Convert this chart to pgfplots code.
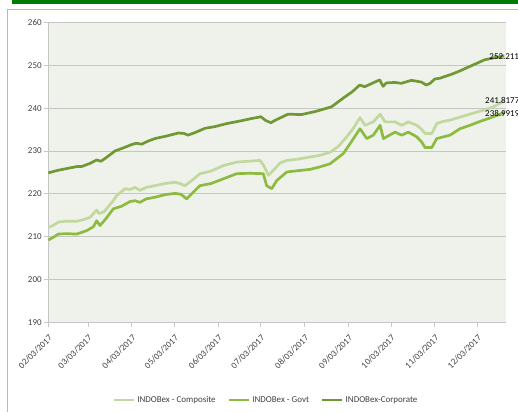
\documentclass[border=0pt]{standalone}
\usepackage{pgfplots}
\pgfplotsset{compat=1.18}
\usepackage{fontspec}
\setmainfont{Carlito}
\definecolor{barGreen}{RGB}{0,122,0}
\definecolor{bgcol}{RGB}{239,242,234}
\definecolor{cComp}{RGB}{193,216,158}
\definecolor{cGovt}{RGB}{141,187,66}
\definecolor{cCorp}{RGB}{112,152,52}
\definecolor{txtgray}{RGB}{64,64,64}
\begin{document}
\begin{tikzpicture}[x=1bp,y=1bp]
\fill[barGreen] (11.7,407.5) rectangle (518,412);
\draw[gray!55, line width=0.9bp] (7.6,0) -- (7.6,403) -- (518,403);
\begin{axis}[
  at={(48.3bp,89.7bp)}, anchor=south west,
  scale only axis, width=457.4bp, height=299.8bp,
  xmin=0, xmax=323, ymin=190, ymax=260,
  clip=false,
  axis lines=left,
  axis line style={-, draw=gray!45, line width=0.9bp},
  axis background/.style={fill=bgcol},
  ytick={190,200,...,260},
  ymajorgrids, major grid style={draw=gray!45, line width=0.9bp},
  xtick={0,28,59,89,120,150,181,212,242,273,303},
  xticklabels={02/03/2017,03/03/2017,04/03/2017,05/03/2017,06/03/2017,07/03/2017,08/03/2017,09/03/2017,10/03/2017,11/03/2017,12/03/2017},
  tick align=outside, major tick length=4.5bp,
  tick style={draw=gray!45, line width=0.9bp},
  /pgf/number format/assume math mode=true,
  ticklabel style={font=\fontsize{9}{10}\selectfont, text=txtgray},
  xticklabel style={rotate=45, anchor=north east, inner sep=1.5pt},
  xticklabel shift=5bp,
  yticklabel style={inner sep=2pt},
  legend columns=3,
  legend style={draw=none, fill=none, font=\fontsize{9}{10}\selectfont, text=txtgray,
    at={(0.476,-0.259)}, anchor=center,
    /tikz/every even column/.append style={column sep=10bp}},
  legend image code/.code={\draw[#1, line width=2.6bp] (0bp,0bp) -- (20bp,0bp);},
  every axis plot/.append style={line width=2.7bp, line join=round},
]
\addplot[cComp] table {
x y
0 212.1
3.3 212.6
7.1 213.4
12.5 213.6
20.1 213.6
25.2 214.0
29.4 214.5
34.2 216.2
35.8 215.4
39.3 215.8
45.9 218.4
48.3 219.6
50.6 220.2
54.2 221.2
57.7 221.0
61.2 221.5
64.7 220.8
69 221.5
75.3 221.9
82.4 222.4
89.5 222.7
93 222.4
96.5 221.9
101.3 223.1
107.1 224.7
114.9 225.3
123.6 226.6
133 227.4
141 227.6
149.5 227.8
152.3 226.5
155.4 224.3
158.9 225.5
163.6 227.2
168.4 227.8
176.3 228.1
184.8 228.6
191.9 229.0
198.9 229.7
204.6 231.0
210.7 233.3
215.2 235.2
220.1 237.8
223.6 236.0
229.5 236.8
234.3 238.6
237.8 236.8
244.8 236.8
249.6 236.0
254.2 236.8
260.2 236.0
263.2 235.2
266 234.1
270.8 234.1
274.3 236.4
278.7 236.9
283.7 237.2
290.7 237.9
297.8 238.6
304.8 239.3
311 239.9
316 240.6
322 241.8
};
\addlegendentry{INDOBex - Composite}
\addplot[cGovt] table {
x y
0 209.2
3.3 209.8
7.1 210.6
12.5 210.7
20.1 210.6
27.1 211.4
31.8 212.3
34.2 213.7
36.5 212.6
40.7 214.2
45.9 216.5
51.8 217.1
57.7 218.2
61.2 218.4
64.7 218.0
69 218.8
75.3 219.2
82.4 219.8
89.5 220.1
93.7 219.9
97.7 218.8
102.4 220.4
107.1 221.9
114.9 222.4
123.6 223.5
133 224.7
142.4 224.8
151.8 224.7
154.2 221.9
157.8 221.2
161.3 223.1
168.4 225.1
176.3 225.4
184.8 225.7
191.9 226.3
198.9 227.0
208.3 229.4
213.1 231.7
220.1 235.2
224.9 232.9
229.5 233.7
234.3 236.0
236.6 232.9
244.8 234.4
249.6 233.7
254.2 234.4
260.2 233.3
263.7 232.1
266 230.8
270.8 230.8
274.3 232.9
283.7 233.7
290.7 235.2
297.8 236.0
304.8 236.9
311 237.6
316 238.2
322 239.0
};
\addlegendentry{INDOBex - Govt}
\addplot[cCorp] table {
x y
0 224.9
6.9 225.5
13 225.9
20.8 226.4
23.8 226.4
29.4 227.1
34.2 227.9
37.2 227.6
40.7 228.4
47.1 230.0
52 230.6
58.9 231.5
62 231.8
66 231.6
70.4 232.3
75.3 232.9
83.6 233.5
91.8 234.2
95.8 234.1
98.7 233.7
103.6 234.3
110.7 235.3
117.7 235.7
126 236.4
135.4 237.0
142.4 237.5
150.1 238.0
153.6 237.1
157.2 236.6
160.4 237.2
169.3 238.6
178.7 238.5
188.3 239.2
199.9 240.3
209.3 242.6
214.5 243.8
219.9 245.4
223.4 245.0
228.6 245.8
234 246.6
236.4 245.1
238.7 245.9
244.8 246.0
249.3 245.8
256.4 246.5
263.4 246.1
266.9 245.4
269.6 245.8
272.9 246.8
276.6 247.0
284.6 247.9
290.7 248.7
298.7 249.9
308.2 251.3
315.3 251.8
322 252.2
};
\addlegendentry{INDOBex-Corporate}
\node[anchor=west, inner sep=0pt, font=\fontsize{9}{10}\selectfont] at (axis cs:311.4,252.0) {252.2119};
\node[anchor=west, inner sep=0pt, font=\fontsize{9}{10}\selectfont] at (axis cs:308.4,241.85) {241.8177};
\node[anchor=west, inner sep=0pt, font=\fontsize{9}{10}\selectfont] at (axis cs:308.4,238.75) {238.9919};
\end{axis}
\pgfresetboundingbox
\path[use as bounding box] (0,0) rectangle (518,412);
\end{tikzpicture}
\end{document}
